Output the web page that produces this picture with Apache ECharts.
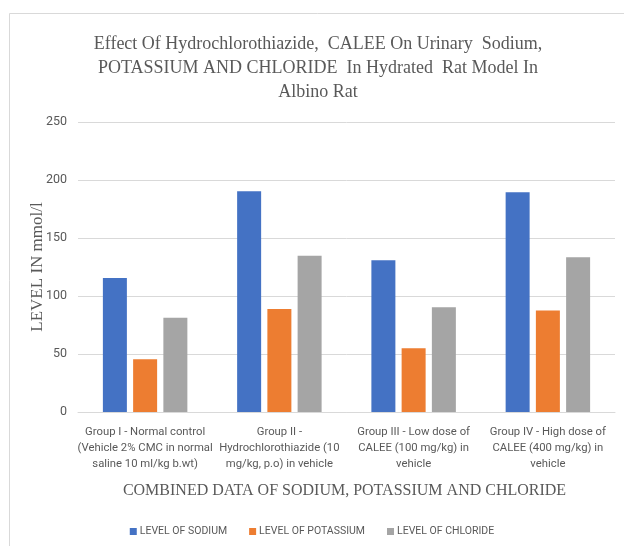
<!DOCTYPE html>
<html>
<head>
<meta charset="utf-8">
<script src="https://cdn.jsdelivr.net/npm/echarts@6/dist/echarts.min.js"></script>
<style>
  html, body { margin: 0; padding: 0; background: #fff; }
  #chart { width: 624px; height: 546px; }
</style>
</head>
<body>
<div id="chart"></div>
<script>
// Groups on the x axis
const categories = [
  'Group I - Normal control\n(Vehicle 2% CMC in normal\nsaline 10 ml/kg b.wt)',
  'Group II -\nHydrochlorothiazide (10\nmg/kg, p.o) in vehicle',
  'Group III - Low dose of\nCALEE (100 mg/kg) in\nvehicle',
  'Group IV - High dose of\nCALEE (400 mg/kg) in\nvehicle'
];

// Urinary electrolyte levels (mmol/l)
const sodium = [115.5, 190.2, 130.8, 189.4];
const potassium = [45.5, 88.8, 55, 87.4];
const chloride = [81.3, 134.7, 90.2, 133.4];

const seriesNames = ['LEVEL OF SODIUM', 'LEVEL OF POTASSIUM', 'LEVEL OF CHLORIDE'];
const colors = ['#4472c4', '#ed7d31', '#a5a5a5'];

const serif = '"Liberation Serif", "Times New Roman", serif';
const sans = 'Roboto, "Liberation Sans", sans-serif';

const chart = echarts.init(document.getElementById('chart'), null, { renderer: 'canvas' });

function bar(name, data, color) {
  return {
    name: name,
    type: 'bar',
    data: data,
    barWidth: 24,
    barGap: '26%',
    itemStyle: { color: color }
  };
}

chart.setOption({
  animation: false,
  backgroundColor: '#ffffff',
  graphic: [{
    type: 'rect',
    shape: { x: 9.5, y: 13.5, width: 640, height: 560 },
    style: { fill: 'none', stroke: '#d9d9d9', lineWidth: 1 },
    silent: true,
    z: -1
  }],
  title: {
    text: 'Effect Of Hydrochlorothiazide,  CALEE On Urinary  Sodium,\nPOTASSIUM AND CHLORIDE  In Hydrated  Rat Model In\nAlbino Rat',
    left: 313,
    textAlign: 'center',
    top: 27,
    textStyle: {
      fontFamily: serif,
      fontWeight: 'normal',
      fontSize: 18,
      lineHeight: 24,
      color: '#595959'
    }
  },
  legend: {
    data: seriesNames,
    bottom: 4,
    left: 'center',
    itemWidth: 7,
    itemHeight: 7,
    itemGap: 22,
    icon: 'rect',
    textStyle: { fontFamily: sans, fontSize: 10.5, color: '#595959', padding: [0, 0, 0, -2] }
  },
  grid: { left: 78, right: 9, top: 122, bottom: 134 },
  xAxis: {
    type: 'category',
    data: categories,
    name: 'COMBINED DATA OF SODIUM, POTASSIUM AND CHLORIDE',
    nameLocation: 'middle',
    nameGap: 71,
    nameTextStyle: { fontFamily: serif, fontSize: 16, color: '#595959', padding: [0, 0, 0, -4] },
    axisLine: { lineStyle: { color: '#d9d9d9' } },
    axisTick: { show: false },
    axisLabel: {
      interval: 0,
      margin: 12,
      fontFamily: sans,
      fontSize: 11.3,
      lineHeight: 16,
      color: '#595959'
    }
  },
  yAxis: {
    type: 'value',
    min: 0,
    max: 250,
    interval: 50,
    name: 'LEVEL IN mmol/l',
    nameLocation: 'middle',
    nameGap: 32,
    nameMoveOverlap: false,
    nameRotate: 90,
    nameTextStyle: { fontFamily: serif, fontSize: 17, color: '#595959' },
    axisLine: { show: false },
    axisTick: { show: false },
    axisLabel: { fontFamily: sans, fontSize: 12.5, color: '#595959', margin: 11 },
    splitLine: { lineStyle: { color: '#d9d9d9', width: 1 } }
  },
  series: [
    bar(seriesNames[0], sodium, colors[0]),
    bar(seriesNames[1], potassium, colors[1]),
    bar(seriesNames[2], chloride, colors[2])
  ]
});
</script>
</body>
</html>
